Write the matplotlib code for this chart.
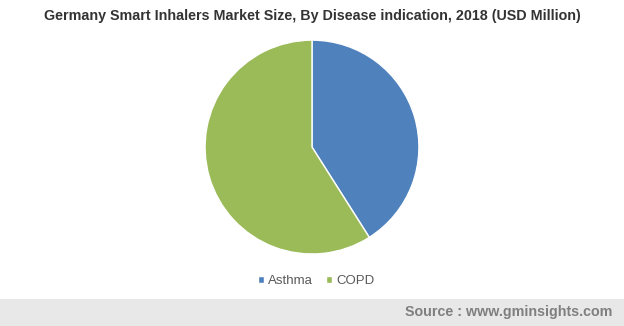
import matplotlib.pyplot as plt
from matplotlib.patches import Rectangle

plt.rcParams['font.family'] = ['Liberation Sans', 'DejaVu Sans']

labels = ['Asthma', 'COPD']
shares = [41, 59]
colors = ['#4f81bd', '#9bbb59']

fig = plt.figure(figsize=(6.24, 3.26), dpi=100)

fig.text(0.5, 0.952, 'Germany Smart Inhalers Market Size, By Disease indication, 2018 (USD Million)',
         ha='center', va='center', fontsize=10.3, fontweight='bold', color='#333333')

ax = fig.add_axes([0.3285, 0.2209, 0.343, 0.656])
wedges, _ = ax.pie(shares, colors=colors, startangle=90, counterclock=False,
                   wedgeprops=dict(edgecolor='white', linewidth=1))
ax.set_xlim(-1, 1)
ax.set_ylim(-1, 1)
ax.set_aspect('equal')

leg = fig.legend(wedges, labels, loc='center', bbox_to_anchor=(0.507, 0.138), ncol=2,
                 frameon=False, fontsize=9.5, handlelength=0.45, handleheight=0.45,
                 handletextpad=0.35, columnspacing=1.0)
for t in leg.get_texts():
    t.set_color('#595959')

fig.patches.append(Rectangle((0, 0), 1, 0.084, transform=fig.transFigure,
                             facecolor='#e8e8e8', edgecolor='none', zorder=0))
fig.text(0.982, 0.043, 'Source : www.gminsights.com', ha='right', va='center',
         fontsize=10.3, fontweight='bold', color='#7f7f7f')

plt.savefig('out.png', dpi=100)
